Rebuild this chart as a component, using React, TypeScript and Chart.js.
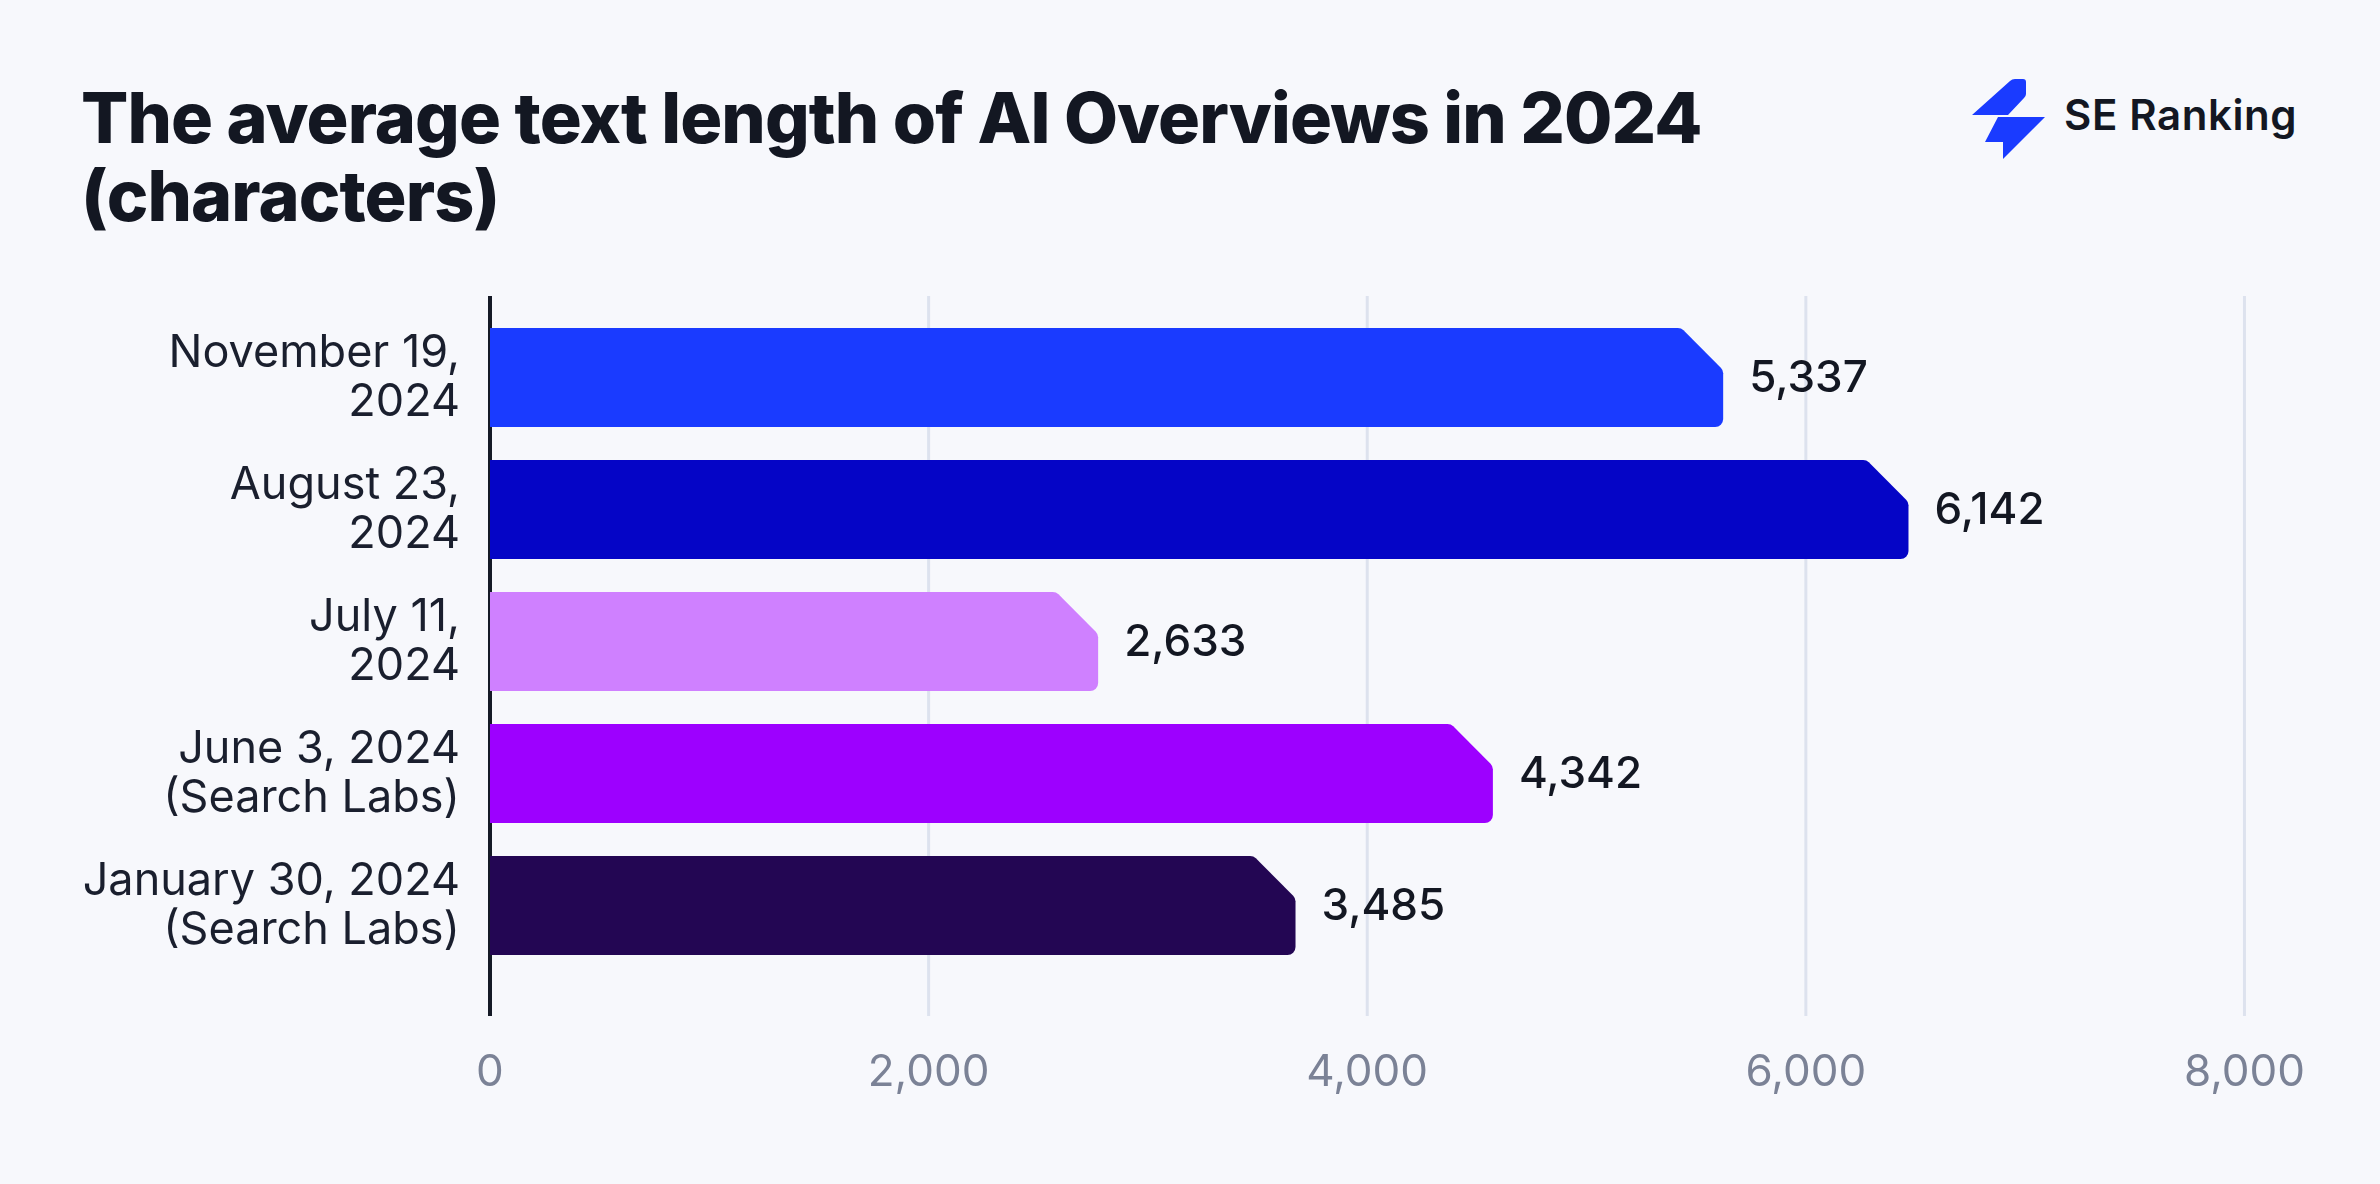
import React, { useEffect, useRef } from "react";
import { Chart, registerables } from "chart.js";

Chart.register(...registerables);

// ---- Data ----
const categories: string[][] = [
  ["November 19,", "2024"],
  ["August 23,", "2024"],
  ["July 11,", "2024"],
  ["June 3, 2024", "(Search Labs)"],
  ["January 30, 2024", "(Search Labs)"],
];
// printed value labels
const valueLabels = ["5,337", "6,142", "2,633", "4,342", "3,485"];
// bar ends as drawn against the x axis in the reference
const barValues = [5623, 6468, 2773, 4573, 3673];
const barColors = ["#1a3bff", "#0505c6", "#cf80ff", "#9d00ff", "#230653"];
const xTickValues = [0, 2000, 4000, 6000, 8000];

const BG = "#f7f8fc";
const FONT = "Inter, 'Noto Sans', sans-serif";

const W = 2380;
const H = 1184;

function barPath(ctx: CanvasRenderingContext2D, left: number, right: number, top: number, bottom: number) {
  const c = 42;
  const r = 8;
  ctx.beginPath();
  ctx.moveTo(left, top);
  ctx.arcTo(right - c, top, right, top + c, r);
  ctx.arcTo(right, top + c, right, bottom, r);
  ctx.arcTo(right, bottom, left, bottom, r);
  ctx.lineTo(left, bottom);
  ctx.closePath();
}

const customPlugin = {
  id: "custom",
  beforeDatasetsDraw(chart: any) {
    const { ctx, chartArea, scales } = chart;
    const xs = scales.x;
    const top = chartArea.top - 15.5;
    const bottom = chartArea.bottom + 44.5;
    ctx.save();
    ctx.strokeStyle = "#dde2ee";
    ctx.lineWidth = 3;
    xTickValues.forEach((v) => {
      if (v === 0) return;
      const px = xs.getPixelForValue(v);
      ctx.beginPath();
      ctx.moveTo(px, top);
      ctx.lineTo(px, bottom);
      ctx.stroke();
    });
    ctx.strokeStyle = "#151a26";
    ctx.lineWidth = 4;
    const x0 = xs.getPixelForValue(0);
    ctx.beginPath();
    ctx.moveTo(x0, top);
    ctx.lineTo(x0, bottom);
    ctx.stroke();
    ctx.restore();
  },
  beforeDatasetDraw(chart: any, args: any) {
    const { ctx } = chart;
    const meta = args.meta;
    ctx.save();
    meta.data.forEach((el: any, i: number) => {
      const p = el.getProps(["x", "y", "base", "height"], true);
      const left = Math.min(p.base, p.x);
      const right = Math.max(p.base, p.x);
      const top = p.y - p.height / 2;
      const bottom = p.y + p.height / 2;
      ctx.fillStyle = barColors[i];
      barPath(ctx, left, right, top, bottom);
      ctx.fill();
      ctx.fillStyle = "#131722";
      ctx.font = `500 44px ${FONT}`;
      ctx.textAlign = "left";
      ctx.textBaseline = "middle";
      ctx.fillText(valueLabels[i], right + 26, p.y + 1);
    });
    ctx.restore();
    return false;
  },
};

export default function App() {
  const canvasRef = useRef<HTMLCanvasElement | null>(null);

  useEffect(() => {
    if (!canvasRef.current) return;
    const chart = new Chart(canvasRef.current, {
      type: "bar",
      data: {
        labels: categories,
        datasets: [
          {
            data: barValues,
            backgroundColor: barColors,
            categoryPercentage: 1,
            barPercentage: 0.75,
          },
        ],
      },
      plugins: [customPlugin],
      options: {
        indexAxis: "y",
        animation: false,
        responsive: false,
        devicePixelRatio: 1,
        layout: { padding: { left: 0, right: 130, top: 311.5, bottom: 62.5 } },
        plugins: { legend: { display: false }, tooltip: { enabled: false } },
        scales: {
          x: {
            type: "linear",
            min: 0,
            max: 8000,
            afterBuildTicks: (scale: any) => {
              scale.ticks = xTickValues.map((v) => ({ value: v }));
            },
            afterFit: (scale: any) => {
              scale.height = 150;
            },
            grid: { display: false, drawTicks: false },
            border: { display: false },
            ticks: {
              color: "#7b8296",
              font: { family: FONT, size: 44, weight: "400" },
              padding: 75,
              maxRotation: 0,
              callback: (v: any) => Number(v).toLocaleString("en-US"),
            },
          },
          y: {
            type: "category",
            afterFit: (scale: any) => {
              scale.width = 490;
            },
            grid: { display: false, drawTicks: false },
            border: { display: false },
            ticks: {
              color: "#1a1f2e",
              font: { family: FONT, size: 45, weight: "400", lineHeight: 1.09 },
              padding: 30,
            },
          },
        },
      } as any,
    });
    return () => chart.destroy();
  }, []);

  return (
    <div
      style={{
        position: "absolute",
        left: 0,
        top: 0,
        width: W,
        height: H,
        background: BG,
        overflow: "hidden",
        fontFamily: FONT,
      }}
    >
      <div
        style={{
          position: "absolute",
          left: 81,
          top: 79,
          fontSize: 70,
          fontWeight: 800,
          lineHeight: "78px",
          color: "#131722",
          letterSpacing: "-0.9px",
          whiteSpace: "nowrap",
        }}
      >
        The average text length of AI Overviews in 2024
        <br />
        (characters)
      </div>
      <svg
        style={{ position: "absolute", left: 1940, top: 60 }}
        width={120}
        height={120}
        viewBox="0 0 120 120"
      >
        <path d="M32 55 L70 21 Q72 19 75 19 L83 19 Q86 19 86 22 L86 34 Q86 36 84 38 L68 55 Z" fill="#1a3bff" />
        <path d="M58 57 L105 57 L63 99 L63 82 L45 82 Z" fill="#1a3bff" />
      </svg>
      <div
        style={{
          position: "absolute",
          left: 2064,
          top: 90,
          fontSize: 42,
          fontWeight: 600,
          lineHeight: "50px",
          color: "#131722",
          letterSpacing: "0.6px",
          whiteSpace: "nowrap",
        }}
      >
        SE Ranking
      </div>
      <canvas
        ref={canvasRef}
        width={W}
        height={H}
        style={{ position: "absolute", left: 0, top: 0, width: W, height: H }}
      />
    </div>
  );
}
